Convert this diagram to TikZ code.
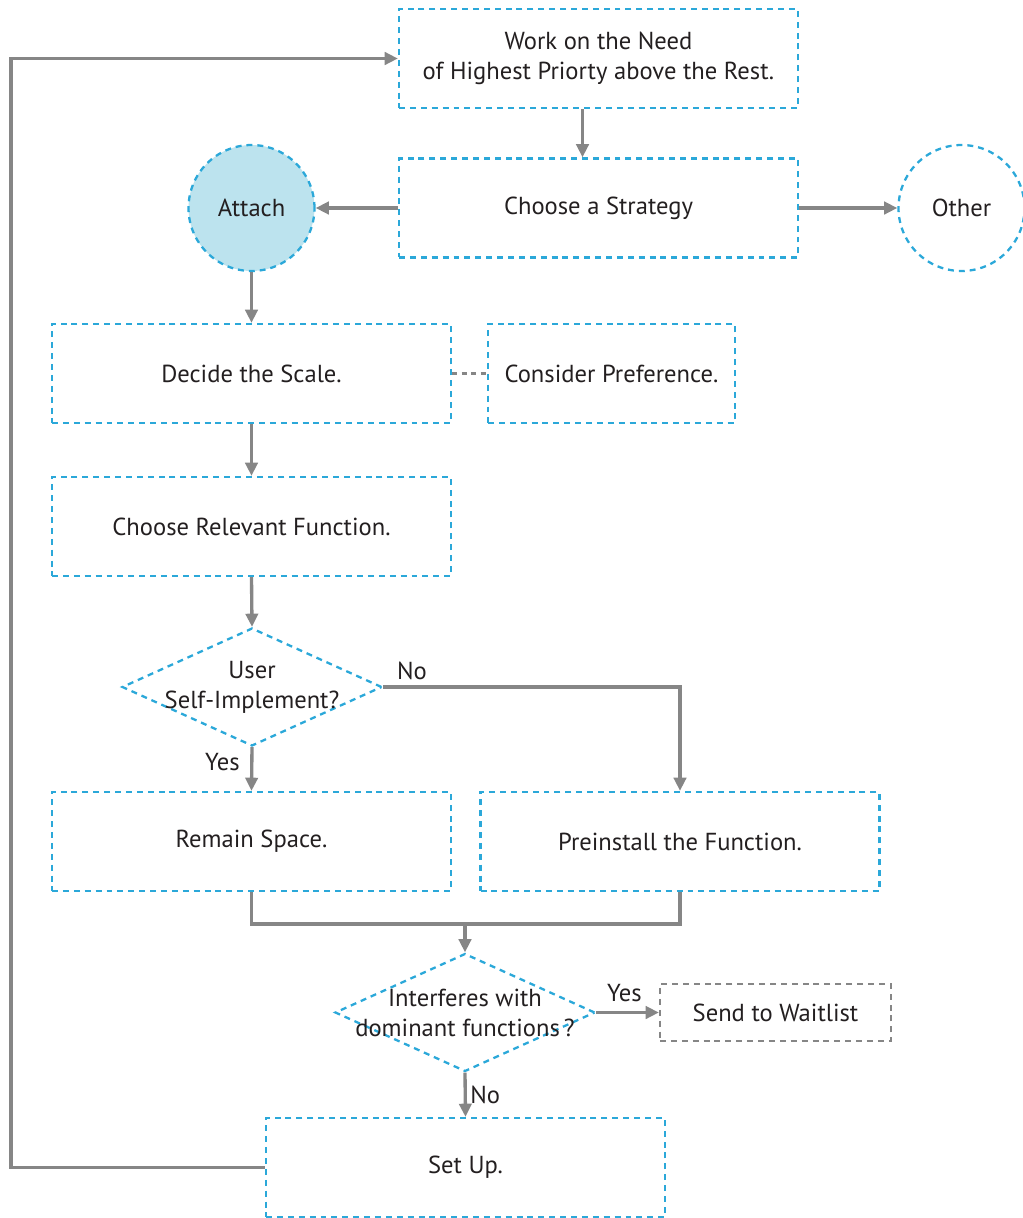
\documentclass[tikz,border=0pt]{standalone}
\usepackage{fontspec}
\setmainfont{PT Sans}
\usetikzlibrary{shapes.geometric,arrows.meta,calc}
\definecolor{flowblue}{HTML}{2BA8D9}
\definecolor{flowgray}{HTML}{868686}
\definecolor{flowtext}{HTML}{231F20}
\definecolor{attachfill}{HTML}{BCE3EE}
\begin{document}
\begin{tikzpicture}[x=0.02cm,y=-0.02cm,
  every node/.style={text=flowtext,font=\fontsize{14}{17}\selectfont},
  dashedline/.style={line width=1.3pt,dash pattern=on 3.4pt off 2.8pt},
  stepbox/.style={draw=flowblue,dashedline,
    rectangle,minimum width=7.98cm,minimum height=1.98cm,align=center,inner sep=0pt},
  roundbox/.style={draw=flowblue,dashedline,
    circle,minimum size=2.52cm,inner sep=0pt},
  decision/.style={draw=flowblue,dashedline,
    diamond,minimum width=5.2cm,minimum height=2.36cm,inner sep=0pt},
  waitbox/.style={draw=flowgray,dashedline,
    rectangle,minimum width=4.62cm,minimum height=1.14cm,inner sep=0pt},
  link/.style={draw=flowgray,line width=1.9pt},
  arrowlink/.style={link,-{Triangle[length=7.5pt,width=7pt]}},
  tag/.style={inner sep=0pt}]
\useasboundingbox (0,0) rectangle (1023,1218);

% process boxes
\node[stepbox] (need) at (598.5,58.5) {Work on the Need\\of Highest Priorty above the Rest.};
\node[stepbox] (strategy) at (598.5,208) {Choose a Strategy};
\node[roundbox,fill=attachfill] (attach) at (251.5,208) {Attach};
\node[roundbox] (other) at (961.5,208) {Other};
\node[stepbox] (scale) at (251.5,373.5) {Decide the Scale.};
\node[stepbox,minimum width=4.94cm] (pref) at (611.5,373.5) {Consider Preference.};
\node[stepbox] (func) at (251.5,526.5) {Choose Relevant Function.};
\node[decision,label={[align=center,text=flowtext,font=\fontsize{14}{17}\selectfont]center:User\\Self-Implement?}] (self) at (252,687) {};
\node[stepbox] (remain) at (251.5,841.5) {Remain Space.};
\node[stepbox] (preinst) at (680,841.5) {Preinstall the Function.};
\node[decision,label={[align=center,text=flowtext,font=\fontsize{14}{17}\selectfont]center:Interferes with\\dominant functions\,?}] (interf) at (465,1012.5) {};
\node[waitbox] (wait) at (775.5,1012.5) {Send to Waitlist};
\node[stepbox] (setup) at (465.5,1167.5) {Set Up.};

% connectors
\draw[arrowlink] ([xshift=-0.32cm]need.south) -- ([xshift=-0.32cm]strategy.north);
\draw[arrowlink] (strategy.west) -- (attach.east);
\draw[arrowlink] (strategy.east) -- (other.west);
\draw[arrowlink] (attach.south) -- (scale.north);
\draw[draw=flowgray,line width=1.7pt,dash pattern=on 3pt off 2.4pt] (scale.east) -- (pref.west);
\draw[arrowlink] (scale.south) -- (func.north);
\draw[arrowlink] (func.south) -- (self.north);
\draw[arrowlink] (self.south) -- node[tag,left=6pt,pos=0.35] {Yes} (remain.north);
\draw[arrowlink] (self.east) -- node[tag,anchor=south west,xshift=7pt,yshift=3pt,pos=0] {No} (self.east -| preinst.north) -- (preinst.north);
\coordinate (merge) at (465,924);
\draw[link] (remain.south) |- (merge) -| (preinst.south);
\draw[arrowlink] (merge) -- (interf.north);
\draw[arrowlink] (interf.east) -- node[tag,above=5pt,pos=0.45] {Yes} (wait.west);
\draw[arrowlink] (interf.south) -- node[tag,right=2pt,pos=0.5] {No} (setup.north);
\coordinate (loop) at (11,1167.5);
\draw[arrowlink] (setup.west) -- (loop) |- (need.west);
\end{tikzpicture}
\end{document}
